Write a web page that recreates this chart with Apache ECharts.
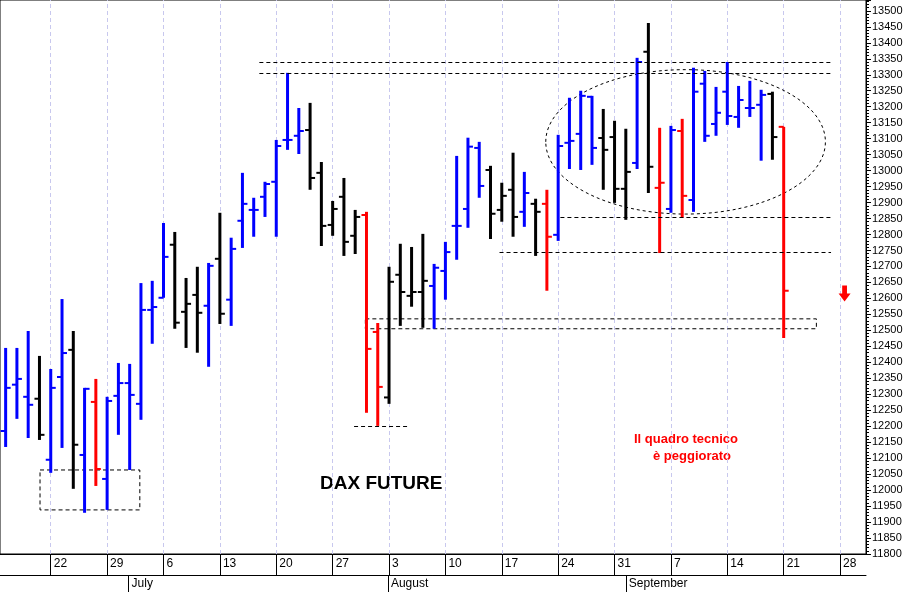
<!DOCTYPE html>
<html><head><meta charset="utf-8">
<script src="https://cdn.jsdelivr.net/npm/echarts@6/dist/echarts.min.js"></script>
<style>html,body{margin:0;padding:0;background:#fff}#main{width:918px;height:592px}</style>
</head><body><div id="main"></div>
<script>
// day index: 0 = Mon 15 June, 5 trading days per week
var startIdx = 1;
var opens  = [12185,12330,12292,12286, 12095,12354,12439,12110,12276, 12035,12295,12335,12270,12564,
              12602,12768,12558,12611,12577, 12724,12596,12843,12877,12918, 12965,13096,13109,13127,12993,
              12830,12918,12796,12861,12495, 12290,12674,12608,12620,12639, 12686,12827,12880,13071,13002,
              12877,12940,12871,12896,12896, 12799,13087,13115,13231,13102, 13105,12943,13024,13372,12946,
              12880,13124,12908,13272,13146, 13247,13168,13196,13206,13240, 13137];
var highs  = [12445,12445,12498,12420, 12379,12598,12498,12320,12348, 12292,12398,12395,12648,12655,
              12836,12808,12664,12699,12711, 12868,12790,12993,12915,12965, 13096,13306,13196,13212,13027,
              12905,12977,12877,12871,12523, 12699,12771,12761,12802,12708, 12777,13046,13103,13090,13015,
              12962,13056,12996,12912,12940, 13112,13228,13250,13234,13193, 13156,13131,13353,13462,13134,
              13140,13162,13322,13312,13262, 13340,13265,13281,13253,13247, 13137];
var lows   = [12135,12223,12163,12157, 12054,12132,12004,11929,12013, 11938,12173,12063,12220,12458,
              12602,12505,12445,12430,12386, 12520,12514,12758,12793,12855, 12793,13065,13052,12940,12764,
              12796,12733,12739,12242,12201, 12270,12514,12574,12508,12505, 12596,12721,12821,12915,12786,
              12840,12793,12824,12733,12624, 12780,13005,13002,13018,12940, 12899,12846,13005,12930,12742,
              12868,12852,12871,13090,13109, 13143,13134,13168,13031,13034, 12476];
var closes = [12320,12348,12267,12173, 12320,12429,12142,12317,12066, 12279,12335,12298,12564,12573,
              12730,12524,12583,12555,12702, 12552,12755,12896,12877,12958, 13077,13096,13124,12977,12827,
              12880,12777,12855,12442,12323, 12652,12620,12620,12655,12696, 12745,12827,13075,12952,12865,
              12921,12855,12930,12871,12793, 13077,13093,13234,13071,13065, 12943,12996,13340,13012,12962,
              13127,12921,13247,13109,13181, 13171,13221,13196,13237,13105, 12624];
var colorCodes = 'bbbk bbkbr bbbbb bkkkb kbbbb bbbkk kkkrr kkkkb bbbbk kkbkr bbbbk kkbkr brbbb bbbbk r'.replace(/ /g, '');
var mondays = [5,10,15,20,25,30,35,40,45,50,55,60,65,70,75];
var mondayLabels = ['22','29','6','13','20','27','3','10','17','24','31','7','14','21','28'];
var monthPos = [11.9, 34.9, 56.0];
var monthNames = ['July', 'August', 'September'];

var palette = {b: '#0000ff', k: '#000000', r: '#ff0000'};
var bars = opens.map(function (o, i) {
  return [startIdx + i, o, highs[i], lows[i], closes[i], colorCodes[i]];
});

var chart = echarts.init(document.getElementById('main'));
function hline(x1, x2, y) { return [{coord: [x1, y]}, {coord: [x2, y]}]; }
var labelFont = {fontFamily: 'Liberation Sans', fontSize: 12, color: '#000'};

chart.setOption({
  animation: false,
  grid: {left: 0, right: 52, top: 0, bottom: 38, show: true, borderColor: '#000', borderWidth: 1},
  xAxis: [{
    type: 'value', min: 0.5, max: 77.3, position: 'bottom',
    axisLine: {lineStyle: {color: '#000'}},
    axisTick: {customValues: mondays, length: 21, lineStyle: {color: '#000'}},
    axisLabel: Object.assign({customValues: mondays, align: 'left', margin: 4, padding: [0, 0, 0, 3],
      formatter: function (v) { return mondayLabels[mondays.indexOf(Math.round(v))] || ''; }}, labelFont),
    splitLine: {show: false}
  }, {
    type: 'value', min: 0.5, max: 77.3, position: 'bottom', offset: 21,
    axisLine: {lineStyle: {color: '#000'}},
    axisTick: {customValues: monthPos, length: 17, lineStyle: {color: '#000'}},
    axisLabel: Object.assign({customValues: monthPos, align: 'left', margin: 3, padding: [0, 0, 0, 3],
      formatter: function (v) {
        for (var i = 0; i < monthPos.length; i++) if (Math.abs(monthPos[i] - v) < 0.01) return monthNames[i];
        return '';
      }}, labelFont),
    splitLine: {show: false}
  }],
  yAxis: {
    type: 'value', min: 11800, max: 13534, interval: 50, position: 'right',
    axisLine: {show: true, lineStyle: {color: '#000'}},
    axisTick: {show: true, length: 5, lineStyle: {color: '#000'}},
    minorTick: {show: true, splitNumber: 5, length: 3, lineStyle: {color: '#000'}},
    axisLabel: {showMaxLabel: false, fontFamily: 'Liberation Sans', fontSize: 11, color: '#000', margin: 6,
      formatter: function (v) { return String(v); }},
    splitLine: {show: false}
  },
  series: [{
    // vertical dashed week grid, drawn underneath the bars
    type: 'line', data: [], z: 0, silent: true,
    markLine: {
      silent: true, symbol: 'none', label: {show: false}, z: 0,
      lineStyle: {type: [4, 3], color: '#c8c8ee', width: 1},
      data: mondays.map(function (m) { return [{coord: [m, 11800]}, {coord: [m, 13534]}]; })
    }
  }, {
    type: 'custom', z: 3,
    data: bars,
    encode: {x: 0, y: [1, 2, 3, 4]},
    renderItem: function (params, api) {
      var x = api.value(0);
      var hi = api.coord([x, api.value(2)]);
      var lo = api.coord([x, api.value(3)]);
      var op = api.coord([x, api.value(1)]);
      var cl = api.coord([x, api.value(4)]);
      var col = palette[api.value(5)] || '#000';
      var st = {stroke: col, lineWidth: 3};
      var tk = {stroke: col, lineWidth: 2};
      return {type: 'group', children: [
        {type: 'line', shape: {x1: hi[0], y1: hi[1], x2: lo[0], y2: lo[1]}, style: st},
        {type: 'line', shape: {x1: op[0] - 5, y1: op[1], x2: op[0], y2: op[1]}, style: tk},
        {type: 'line', shape: {x1: cl[0], y1: cl[1], x2: cl[0] + 5, y2: cl[1]}, style: tk}
      ]};
    },
    markLine: {
      silent: true, symbol: 'none', label: {show: false},
      lineStyle: {type: [4, 3], color: '#000', width: 1},
      data: [
        hline(23.5, 74.2, 13340), hline(23.5, 74.2, 13306),
        hline(50.2, 74.2, 12855), hline(44.8, 74.2, 12745),
        hline(31.9, 36.8, 12200)
      ]
    },
    markArea: {
      silent: true,
      itemStyle: {color: 'rgba(0,0,0,0)', borderColor: '#000', borderWidth: 1, borderType: [4, 3]},
      data: [
        [{coord: [32.9, 12536]}, {coord: [72.9, 12505]}],
        [{coord: [4.05, 12063]}, {coord: [12.9, 11938]}]
      ]
    },
    markPoint: {
      silent: true, label: {show: false},
      data: [{coord: [75.4, 12615], symbol: 'path://M3,0 L7,0 L7,6 L10,6 L5,12 L0,6 L3,6 Z',
        symbolSize: [12, 16], itemStyle: {color: '#ff0000'}}]
    }
  }, {
    type: 'custom', z: 2,
    silent: true,
    data: [[61.3, 13090, 12.4, 226]],
    renderItem: function (params, api) {
      var c = api.coord([api.value(0), api.value(1)]);
      var e = api.coord([api.value(0) + api.value(2), api.value(1) + api.value(3)]);
      return {type: 'ellipse', shape: {cx: c[0], cy: c[1], rx: e[0] - c[0], ry: c[1] - e[1]},
        style: {fill: 'none', stroke: '#000', lineWidth: 1, lineDash: [3, 3]}};
    }
  }],
  graphic: [
    {type: 'text', left: 320, top: 474, style: {text: 'DAX FUTURE', font: 'bold 19px "Liberation Sans"', fill: '#000'}},
    {type: 'text', left: 634, top: 433, style: {text: 'Il quadro tecnico', font: 'bold 13px "Liberation Sans"', fill: '#ff0000'}},
    {type: 'text', left: 653, top: 450, style: {text: 'è peggiorato', font: 'bold 13px "Liberation Sans"', fill: '#ff0000'}}
  ]
});
</script></body></html>
